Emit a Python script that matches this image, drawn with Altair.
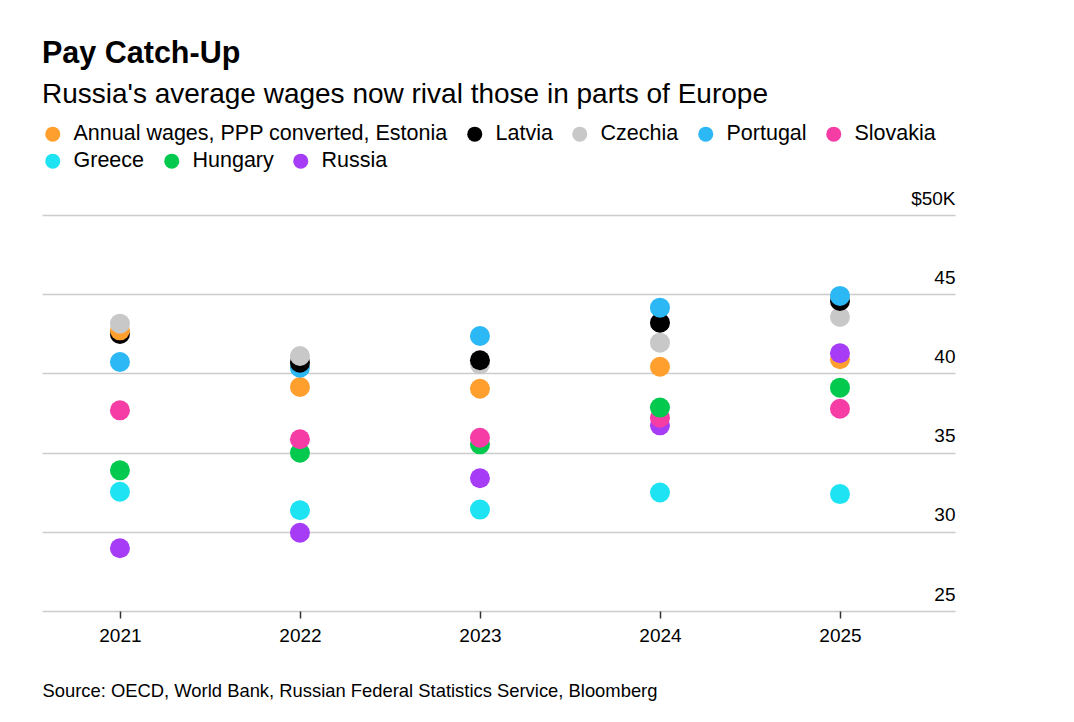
import altair as alt
import pandas as pd

years = [2021, 2022, 2023, 2024, 2025]
countries = ["Annual wages, PPP converted, Estonia", "Latvia", "Czechia", "Portugal",
             "Slovakia", "Greece", "Hungary", "Russia"]
colors = ["#ff9f2e", "#000000", "#c8c8c8", "#2bb8f5", "#f53da5", "#1ee3f3", "#03c94e", "#a63cf6"]

# average annual wages, thousand USD (PPP)
estonia = [42.72, 39.14, 39.03, 40.42, 40.89]
latvia = [42.49, 40.68, 40.83, 43.20, 44.57]
czechia = [43.14, 41.10, 40.57, 41.94, 43.56]
portugal = [40.72, 40.36, 42.36, 44.15, 44.89]
slovakia = [37.67, 35.84, 35.94, 37.20, 37.77]
greece = [32.53, 31.36, 31.40, 32.48, 32.38]
hungary = [33.88, 34.99, 35.52, 37.84, 39.10]
russia = [28.96, 29.94, 33.38, 36.72, 41.27]

series = [estonia, latvia, czechia, portugal, slovakia, greece, hungary, russia]
rows = []
for name, vals in zip(countries, series):
    for y, v in zip(years, vals):
        rows.append({"year": y, "country": name, "wage": v})
df = pd.DataFrame(rows).sort_values("wage").reset_index(drop=True)

font = "Liberation Sans"

x_enc = alt.X("year:Q", title="Source: OECD, World Bank, Russian Federal Statistics Service, Bloomberg",
              scale=alt.Scale(domain=[2020.567, 2025.639], nice=False, zero=False),
              axis=alt.Axis(values=years, format="d", grid=False, domain=False, tickSize=7,
                            tickColor="#333333", tickWidth=1.5, labelPadding=8, labelFontSize=19,
                            labelColor="#000000", titleAnchor="start", titleAlign="left",
                            titleFontSize=18.4, titleFontWeight="normal", titleColor="#000000",
                            titleY=85, titleBaseline="alphabetic"))
y_enc = alt.Y("wage:Q", title=None,
              scale=alt.Scale(domain=[25, 50], nice=False, zero=False),
              axis=alt.Axis(orient="right", values=[25, 30, 35, 40, 45, 50], domain=False,
                            ticks=False, labelPadding=0, labelAlign="right",
                            labelBaseline="alphabetic", labelOffset=-11, labelFontSize=19,
                            labelColor="#000000", gridColor="#cccccc", gridWidth=1.5,
                            labelExpr="datum.value == 50 ? '$50K' : datum.label"))

base = alt.Chart(df)

points = base.mark_circle(size=400, opacity=1).encode(
    x=x_enc,
    y=y_enc,
    color=alt.Color("country:N", scale=alt.Scale(domain=countries, range=colors), legend=None),
    order=alt.Order("wage:Q", sort="ascending"),
)


def legend_layer(names, cols, legend_y):
    return base.transform_filter(
        alt.FieldOneOfPredicate(field="country", oneOf=names)
    ).mark_circle(size=400, opacity=0).encode(
        x="year:Q",
        y="wage:Q",
        color=alt.Color("country:N", title=None,
                        scale=alt.Scale(domain=names, range=cols),
                        legend=alt.Legend(orient="none", legendX=0, legendY=legend_y,
                                          direction="horizontal", columns=len(names),
                                          symbolType="circle", symbolSize=225,
                                          symbolOpacity=1, labelFontSize=21.5, labelLimit=600,
                                          labelOffset=10, columnPadding=16,
                                          labelColor="#000000")),
    )


legend1 = legend_layer(countries[:5], colors[:5], -92)
legend2 = legend_layer(countries[5:], colors[5:], -65)

chart = alt.layer(points, legend1, legend2).resolve_scale(
    color="independent"
).properties(
    width=913,
    height=396,
    title=alt.TitleParams(
        text="Pay Catch-Up",
        subtitle="Russia's average wages now rival those in parts of Europe",
        anchor="start", font=font, fontSize=30.5, fontWeight="bold", color="#000000",
        subtitleFont=font, subtitleFontSize=28, subtitleColor="#000000",
        subtitlePadding=12, offset=14,
    ),
    padding={"left": 34, "top": 30, "right": 10, "bottom": 10},
).configure(font=font).configure_view(stroke=None)

chart.save("out.html", embed_options={"renderer": "svg", "actions": False})
